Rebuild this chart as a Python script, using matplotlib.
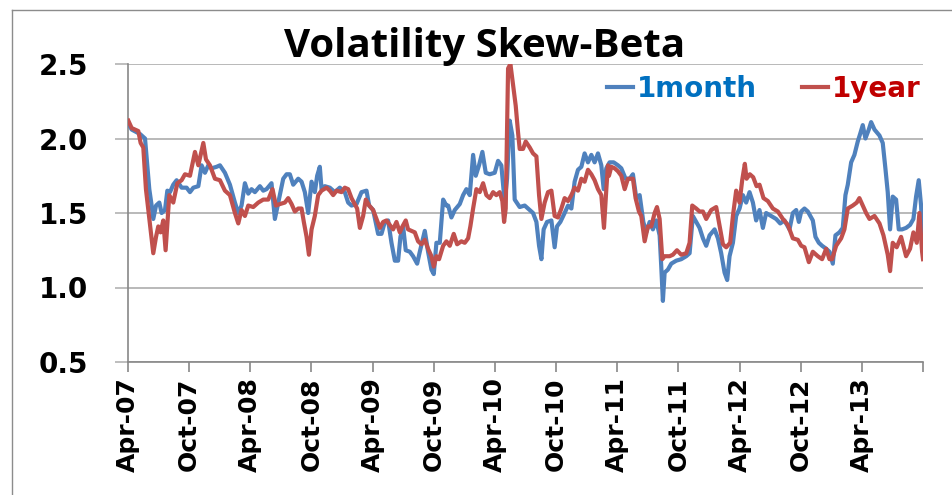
import matplotlib
matplotlib.use("Agg")
import matplotlib.pyplot as plt
from matplotlib.lines import Line2D

# x values are months elapsed since April 2007
month_1m = [0.03, 0.36, 1.18, 1.67, 2.09, 2.32, 2.48, 2.75, 3.07, 3.30, 3.63, 3.86, 4.12, 4.44, 4.77,
            5.26, 5.75, 6.08, 6.41, 6.90, 7.22, 7.55, 7.88, 8.20, 8.69, 9.02, 9.51, 10.0, 10.49, 10.82,
            11.14, 11.47, 11.80, 12.12, 12.45, 12.94, 13.27, 13.59, 14.08, 14.41, 14.74, 15.23, 15.56,
            15.88, 16.21, 16.70, 17.03, 17.35, 17.68, 18.01, 18.33, 18.56, 18.82, 18.99, 19.31, 19.80,
            20.29, 20.78, 21.27, 21.60, 21.93, 22.42, 22.91, 23.40, 23.66, 24.05, 24.54, 24.87, 25.20,
            25.52, 25.85, 26.18, 26.50, 26.73, 26.99, 27.25, 27.65, 27.97, 28.37, 28.63, 29.12, 29.44,
            29.77, 30.00, 30.26, 30.59, 30.92, 31.24, 31.41, 31.73, 32.06, 32.55, 32.88, 33.20, 33.53,
            33.86, 34.12, 34.44, 34.77, 35.10, 35.49, 35.98, 36.31, 36.63, 36.96, 37.19, 37.45, 37.71,
            37.94, 38.43, 38.92, 39.25, 39.74, 40.07, 40.33, 40.56, 40.78, 41.11, 41.54, 41.86, 42.09,
            42.42, 42.84, 43.17, 43.50, 43.82, 44.15, 44.48, 44.80, 45.13, 45.46, 45.78, 46.11, 46.44,
            46.67, 46.93, 47.25, 47.65, 48.07, 48.40, 48.82, 49.22, 49.54, 49.87, 50.20, 50.56, 50.85,
            51.18, 51.50, 51.83, 52.16, 52.32, 52.48, 52.65, 52.97, 53.30, 53.79, 54.28, 54.77, 55.10,
            55.42, 55.75, 56.08, 56.41, 56.73, 57.06, 57.55, 57.88, 58.20, 58.53, 58.79, 59.02, 59.35,
            59.67, 60.00, 60.33, 60.65, 60.98, 61.31, 61.63, 61.96, 62.29, 62.61, 63.10, 63.59, 63.99,
            64.41, 64.90, 65.23, 65.56, 65.82, 66.05, 66.37, 66.70, 67.19, 67.45, 67.78, 68.10, 68.50,
            68.82, 69.15, 69.41, 69.80, 70.13, 70.39, 70.62, 70.95, 71.27, 71.60, 71.83, 72.09, 72.35,
            72.68, 72.91, 73.24, 73.73, 74.05, 74.31, 74.54, 74.77, 75.03, 75.36, 75.62, 75.95, 76.34,
            76.73, 77.06, 77.32, 77.58, 77.81, 77.97]
beta_1m = [2.10, 2.06, 2.03, 2.00, 1.66, 1.55, 1.46, 1.55, 1.57, 1.50, 1.52, 1.65, 1.64, 1.69, 1.72,
           1.67, 1.67, 1.64, 1.67, 1.68, 1.82, 1.77, 1.82, 1.80, 1.81, 1.82, 1.77, 1.69, 1.57, 1.50,
           1.55, 1.70, 1.63, 1.66, 1.64, 1.68, 1.65, 1.66, 1.70, 1.46, 1.57, 1.73, 1.76,
           1.76, 1.69, 1.73, 1.71, 1.64, 1.50, 1.71, 1.64, 1.75, 1.81, 1.66, 1.68, 1.67,
           1.64, 1.67, 1.64, 1.57, 1.55, 1.56, 1.64, 1.65, 1.55, 1.52, 1.36, 1.36, 1.44,
           1.45, 1.30, 1.18, 1.18, 1.34, 1.41, 1.25, 1.24, 1.21, 1.16, 1.24, 1.38, 1.24,
           1.12, 1.09, 1.30, 1.30, 1.59, 1.55, 1.55, 1.47, 1.52, 1.56, 1.62, 1.66, 1.62,
           1.89, 1.75, 1.82, 1.91, 1.77, 1.76, 1.77, 1.85, 1.82, 1.57, 1.73, 2.12, 2.02,
           1.59, 1.54, 1.55, 1.53, 1.50, 1.44, 1.28, 1.19, 1.39, 1.44, 1.45, 1.27, 1.41,
           1.44, 1.50, 1.55, 1.53, 1.71, 1.79, 1.81, 1.90, 1.84, 1.89, 1.84, 1.90, 1.82,
           1.66, 1.80, 1.84, 1.84, 1.82, 1.80, 1.73, 1.73, 1.76, 1.60, 1.62, 1.44, 1.37,
           1.44, 1.39, 1.45, 1.35, 1.14, 0.91, 1.10, 1.12, 1.16, 1.18, 1.19, 1.21, 1.23,
           1.48, 1.44, 1.40, 1.33, 1.28, 1.35, 1.39, 1.33, 1.23, 1.10, 1.05, 1.21, 1.30,
           1.48, 1.53, 1.62, 1.57, 1.64, 1.57, 1.45, 1.52, 1.40, 1.50, 1.48, 1.46, 1.43,
           1.45, 1.39, 1.50, 1.52, 1.44, 1.51, 1.53, 1.51, 1.45, 1.34, 1.30, 1.28, 1.26,
           1.24, 1.16, 1.35, 1.37, 1.40, 1.62, 1.69, 1.84, 1.89, 1.98, 2.03, 2.09, 2.00,
           2.06, 2.11, 2.06, 2.02, 1.97, 1.80, 1.64, 1.39, 1.61, 1.59, 1.39, 1.39, 1.40,
           1.42, 1.46, 1.61, 1.72, 1.55, 1.31]

month_1y = [0.03, 0.36, 1.01, 1.24, 1.50, 1.76, 2.09, 2.48, 2.75, 2.97, 3.20, 3.46, 3.69, 4.05, 4.44,
            4.84, 5.26, 5.59, 6.08, 6.57, 6.90, 7.39, 7.65, 8.04, 8.53, 9.02, 9.51, 10.0, 10.49, 10.82,
            11.14, 11.47, 11.80, 12.29, 12.78, 13.27, 13.76, 14.18, 14.51, 14.90, 15.39, 15.72, 16.05,
            16.37, 16.70, 17.03, 17.25, 17.52, 17.75, 18.01, 18.33, 18.66, 18.99, 19.48, 19.80, 20.13,
            20.46, 20.95, 21.27, 21.60, 21.93, 22.25, 22.48, 22.75, 23.07, 23.33, 23.66, 24.05, 24.38,
            24.71, 25.03, 25.36, 25.69, 26.01, 26.34, 26.67, 26.93, 27.25, 27.48, 27.81, 28.14, 28.46,
            28.79, 29.12, 29.44, 29.77, 30.00, 30.26, 30.52, 30.92, 31.24, 31.57, 31.96, 32.29, 32.71,
            33.04, 33.37, 33.59, 33.86, 34.18, 34.51, 34.84, 35.16, 35.49, 35.82, 36.14, 36.47, 36.73,
            36.90, 37.06, 37.29, 37.52, 37.78, 38.04, 38.27, 38.43, 38.76, 39.02, 39.41, 39.74, 40.07,
            40.33, 40.56, 40.88, 41.21, 41.54, 41.86, 42.19, 42.52, 42.84, 43.17, 43.50, 43.82, 44.15,
            44.48, 44.80, 45.13, 45.46, 45.78, 46.11, 46.44, 46.70, 46.93, 47.09, 47.19, 47.42, 47.75,
            48.07, 48.40, 48.73, 49.05, 49.54, 49.80, 50.13, 50.36, 50.69, 51.01, 51.34, 51.67, 51.90,
            52.16, 52.42, 52.65, 53.14, 53.46, 53.86, 54.28, 54.77, 55.10, 55.36, 55.75, 56.08, 56.41,
            56.73, 57.22, 57.71, 57.97, 58.37, 58.69, 59.08, 59.35, 59.67, 60.00, 60.26, 60.52, 60.69,
            61.01, 61.34, 61.67, 61.96, 62.35, 62.78, 63.27, 63.76, 64.25, 64.74, 65.23, 65.72, 66.05,
            66.37, 66.80, 67.19, 67.68, 68.10, 68.50, 68.82, 69.08, 69.48, 69.97, 70.29, 70.62, 71.11,
            71.50, 71.76, 72.09, 72.42, 72.75, 73.24, 73.73, 74.12, 74.54, 74.77, 75.03, 75.42, 75.85,
            76.34, 76.73, 77.06, 77.39, 77.65, 77.91, 78.0]
beta_1y = [2.12, 2.07, 2.05, 1.97, 1.94, 1.66, 1.46, 1.23, 1.34, 1.41, 1.37, 1.45, 1.25, 1.62, 1.57,
           1.70, 1.72, 1.76, 1.75, 1.91, 1.82, 1.97, 1.86, 1.82, 1.73, 1.72, 1.65, 1.62, 1.50, 1.43,
           1.52, 1.48, 1.55, 1.54, 1.57, 1.59, 1.59, 1.66, 1.55, 1.56, 1.57, 1.60, 1.56,
           1.51, 1.53, 1.53, 1.44, 1.34, 1.22, 1.39, 1.48, 1.62, 1.65, 1.67, 1.65, 1.62,
           1.65, 1.64, 1.67, 1.66, 1.60, 1.56, 1.53, 1.40, 1.48, 1.59, 1.55, 1.52, 1.46,
           1.40, 1.44, 1.45, 1.42, 1.39, 1.44, 1.37, 1.41, 1.45, 1.39, 1.38, 1.37, 1.31,
           1.29, 1.32, 1.26, 1.21, 1.14, 1.21, 1.19, 1.28, 1.31, 1.28, 1.36, 1.29, 1.31,
           1.30, 1.33, 1.41, 1.53, 1.66, 1.64, 1.70, 1.62, 1.60, 1.64, 1.62, 1.64, 1.58,
           1.44, 1.53, 2.47, 2.50, 2.36, 2.22, 2.04, 1.93, 1.93, 1.98, 1.94, 1.90, 1.88,
           1.62, 1.46, 1.57, 1.64, 1.65, 1.48, 1.47, 1.53, 1.60, 1.58, 1.62, 1.67, 1.65,
           1.73, 1.71, 1.79, 1.76, 1.72, 1.66, 1.62, 1.40, 1.66, 1.82, 1.75, 1.81, 1.80,
           1.78, 1.75, 1.66, 1.73, 1.73, 1.60, 1.51, 1.48, 1.31, 1.41, 1.41, 1.50, 1.54,
           1.46, 1.19, 1.21, 1.21, 1.22, 1.25, 1.22, 1.23, 1.30, 1.55, 1.53, 1.51, 1.51,
           1.46, 1.52, 1.54, 1.44, 1.29, 1.27, 1.30, 1.48, 1.65, 1.57, 1.72, 1.83, 1.73,
           1.76, 1.74, 1.68, 1.69, 1.60, 1.58, 1.53, 1.51, 1.46, 1.42, 1.33, 1.32, 1.28,
           1.27, 1.17, 1.24, 1.21, 1.19, 1.26, 1.19, 1.19, 1.28, 1.33, 1.39, 1.53, 1.55,
           1.57, 1.60, 1.55, 1.50, 1.46, 1.48, 1.43, 1.35, 1.22, 1.11, 1.30, 1.27, 1.34,
           1.21, 1.26, 1.37, 1.30, 1.50, 1.24, 1.19]

tick_labels = ["Apr-07", "Oct-07", "Apr-08", "Oct-08", "Apr-09", "Oct-09", "Apr-10",
               "Oct-10", "Apr-11", "Oct-11", "Apr-12", "Oct-12", "Apr-13"]
series_names = ["1month", "1year"]

BLUE = "#4F81BD"
RED = "#C0504D"
GRID = "#B3B3B3"
AXIS = "#878787"

W, H = 953, 495
fig = plt.figure(figsize=(W / 100, H / 100), dpi=100)
ax = fig.add_axes([128 / W, 1 - 362 / H, (923 - 128) / W, (362 - 64) / H])

ax.plot(month_1m, beta_1m, color=BLUE, lw=3.0, solid_joinstyle="round", label=series_names[0], zorder=3)
ax.plot(month_1y, beta_1y, color=RED, lw=3.0, solid_joinstyle="round", label=series_names[1], zorder=4)

ax.set_xlim(0, 78)
ax.set_ylim(0.5, 2.5)
ax.set_yticks([0.5, 1.0, 1.5, 2.0, 2.5])
ax.set_yticklabels([f"{v:.1f}" for v in [0.5, 1.0, 1.5, 2.0, 2.5]])
ax.set_xticks(list(range(0, 79, 6)))
ax.set_xticklabels(tick_labels + [""], rotation=90)

ax.yaxis.grid(True, color=GRID, lw=1.3)
ax.set_axisbelow(True)
for side in ("top", "right"):
    ax.spines[side].set_visible(False)
for side in ("left", "bottom"):
    ax.spines[side].set_color(AXIS)
    ax.spines[side].set_linewidth(1.2)

ax.tick_params(axis="y", length=9.5, width=1.2, color=GRID, pad=19,
               labelsize=20)
ax.tick_params(axis="x", length=7, width=1.2, color=AXIS, pad=4, labelsize=18)
for lab in ax.get_xticklabels() + ax.get_yticklabels():
    lab.set_fontweight("bold")
    lab.set_family("DejaVu Sans")

fig.text(485 / W, 1 - 57 / H, "Volatility Skew-Beta", ha="center", va="baseline",
         fontsize=29, fontweight="bold", family="Open Sans")

leg = ax.legend(loc="center right", bbox_to_anchor=(921 / W, 1 - 89 / H),
                bbox_transform=fig.transFigure, ncol=2, frameon=False,
                prop={"family": "DejaVu Sans", "weight": "bold", "size": 20},
                handlelength=0.95, handletextpad=0.15, columnspacing=1.6,
                borderpad=0, borderaxespad=0)
for txt, col in zip(leg.get_texts(), ["#0070C0", "#C00000"]):
    txt.set_color(col)
for h in leg.legend_handles:
    h.set_linewidth(3.0)

# outer chart frame
fig.add_artist(Line2D([12 / W, 12 / W], [0, 1 - 10 / H], transform=fig.transFigure,
                      color="#8C8C8C", lw=1.0))
fig.add_artist(Line2D([12 / W, 1], [1 - 10 / H, 1 - 10 / H], transform=fig.transFigure,
                      color="#8C8C8C", lw=1.0))

fig.savefig("out.png", dpi=100)
